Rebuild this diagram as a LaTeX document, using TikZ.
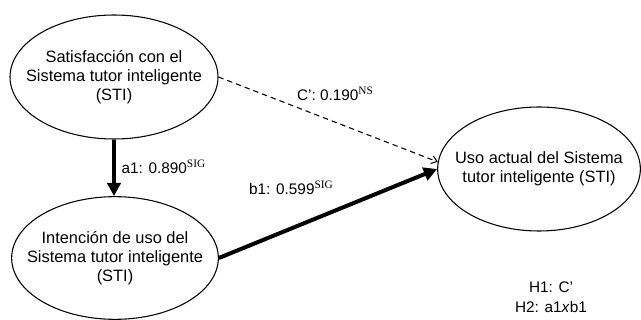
\documentclass[tikz,border=0pt]{standalone}
\usepackage{fontspec}
\setmainfont{Liberation Sans}
\newfontfamily\supfont{Liberation Serif}
\usetikzlibrary{arrows.meta,shapes.geometric}
\newcommand{\sigmark}[1]{\raisebox{0.42em}{\fontsize{8.5}{8.5}\supfont #1}}

\begin{document}
\begin{tikzpicture}[x=0.75pt,y=-0.75pt,
  construct/.style={draw, ellipse, line width=0.8pt, inner sep=0pt},
  caption/.style={label={[align=center, font=\fontsize{12.3}{14.3}\selectfont]center:{#1}}},
  effect/.style={line width=3pt, -{Triangle[length=10pt,width=10pt]}},
  direct/.style={line width=0.8pt, dashed, dash pattern=on 4pt off 3pt,
    -{Straight Barb[length=4pt,width=6pt]}},
  coef/.style={font=\fontsize{11.5}{13}\selectfont, inner sep=1pt}]
  \useasboundingbox (0,0) rectangle (641,320);

  \node[construct, minimum width=156pt, minimum height=93pt,
    caption={Satisfacción con el\\Sistema tutor inteligente\\(STI)}] (sat) at (114,77) {};
  \node[construct, minimum width=155pt, minimum height=92pt,
    caption={Intención de uso del\\Sistema tutor inteligente\\(STI)}] (int) at (115,258) {};
  \node[construct, minimum width=152pt, minimum height=93pt,
    caption={Uso actual del Sistema\\tutor inteligente (STI)}] (uso) at (539,169) {};

  \draw[effect] (sat.south) -- (sat.south |- int.north);
  \draw[effect] (int.east) -- (uso.west);
  \draw[direct] (sat.east) -- (uso.176);

  \node[coef, anchor=west] (a1) at (120,167) {a1: 0.890\sigmark{SIG}};
  \node[coef] (b1) at (291,188) {b1: 0.599\sigmark{SIG}};
  \node[coef] (c1) at (335,94) {C’: 0.190\sigmark{NS}};

  \node[coef, align=center, font=\fontsize{11.5}{15}\selectfont] (hyp) at (551,297)
    {H1: C’\\H2: a1\textit{x}b1};
\end{tikzpicture}
\end{document}
